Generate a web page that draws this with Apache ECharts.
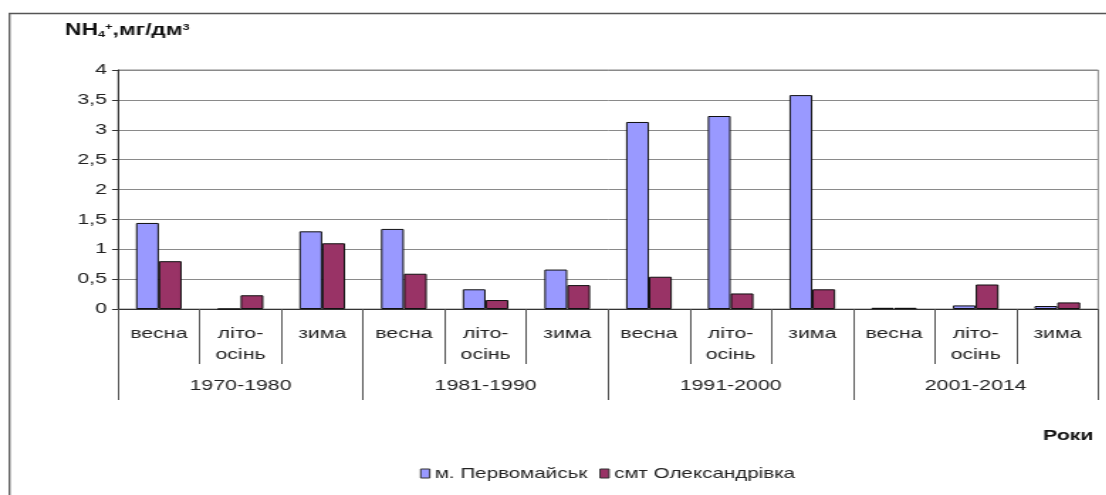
<!DOCTYPE html>
<html>
<head>
<meta charset="utf-8">
<script src="https://cdn.jsdelivr.net/npm/echarts@6/dist/echarts.min.js"></script>
<style>
  html, body { margin: 0; padding: 0; background: #fff; overflow: hidden; }
  /* оригінал розтягнутий по горизонталі, тому малюємо вужче і розтягуємо */
  #chart { width: 779px; height: 495px; transform: scaleX(1.42); transform-origin: 0 0; }
</style>
</head>
<body>
<div id="chart"></div>
<script>
// сезони всередині кожного періоду
const seasons = ['весна', 'літо-\nосінь', 'зима']
const periods = ['1970-1980', '1981-1990', '1991-2000', '2001-2014']
const categories = periods.flatMap(() => seasons)

// NH4+, мг/дм3
const pervomaisk = [1.44, 0, 1.30, 1.34, 0.33, 0.66, 3.13, 3.23, 3.58, 0.02, 0.06, 0.05]
const oleksandrivka = [0.80, 0.23, 1.10, 0.59, 0.15, 0.40, 0.54, 0.26, 0.33, 0.02, 0.41, 0.11]

const yTicks = ['0', '0,5', '1', '1,5', '2', '2,5', '3', '3,5', '4']

const SX = 1.42
const px = v => v / SX   // горизонтальні відстані в пікселях картинки
const font = 'Liberation Sans, Arial, sans-serif'

const chart = echarts.init(document.getElementById('chart'))

const option = {
  animation: false,
  textStyle: { fontFamily: font },
  grid: {
    left: px(118), right: px(8), top: 70, bottom: 186,
    show: true, borderColor: '#8a8a8a', borderWidth: 1
  },
  title: {
    left: px(58), top: 15,
    text: '{b|NH}{sub|4}{sup|+}{b|,мг/дм}{sup|3}',
    textStyle: {
      rich: {
        b: { fontFamily: font, fontWeight: 'bold', fontSize: 16, color: '#111', lineHeight: 22, verticalAlign: 'middle' },
        sub: { fontFamily: font, fontWeight: 'bold', fontSize: 9, color: '#111', lineHeight: 22, verticalAlign: 'bottom', padding: [0, 0, 3, 0] },
        sup: { fontFamily: font, fontSize: 9, color: '#111', lineHeight: 22, verticalAlign: 'top', padding: [3, 0, 0, 0] }
      }
    }
  },
  legend: {
    top: 466, left: px(420) - 5, padding: [0, 5],
    itemWidth: px(9), itemHeight: 9, itemGap: px(12),
    icon: 'rect',
    itemStyle: { borderColor: '#333', borderWidth: 1 },
    textStyle: { fontFamily: font, fontSize: 14.5, color: '#222', padding: [0, 0, 0, px(5) - 5] },
    data: ['м. Первомайськ', 'смт Олександрівка']
  },
  xAxis: [
    {
      type: 'category',
      data: categories,
      axisLine: { lineStyle: { color: '#333', width: 1 } },
      axisTick: { show: true, length: 55, interval: 0, lineStyle: { color: '#555' } },
      axisLabel: { interval: 0, margin: 14, fontSize: 15, color: '#222', lineHeight: 21 }
    },
    {
      type: 'category',
      data: periods,
      position: 'bottom',
      axisLine: { show: false },
      axisTick: { show: true, length: 91, interval: 0, lineStyle: { color: '#555' } },
      axisLabel: { interval: 0, margin: 69, fontSize: 15, color: '#222' }
    }
  ],
  yAxis: {
    type: 'value',
    min: 0, max: 4, interval: 0.5,
    axisLine: { show: true, lineStyle: { color: '#333' } },
    axisTick: { show: true, length: px(6), lineStyle: { color: '#333' } },
    axisLabel: {
      fontSize: 15, color: '#222', margin: px(11),
      formatter: v => yTicks[Math.round(v * 2)]
    },
    splitLine: { lineStyle: { color: '#8a8a8a', width: 1 } }
  },
  series: [
    {
      name: 'м. Первомайськ',
      type: 'bar',
      data: pervomaisk,
      barGap: '0%',
      barCategoryGap: '44%',
      itemStyle: { color: '#9999ff', borderColor: '#111', borderWidth: 1 }
    },
    {
      name: 'смт Олександрівка',
      type: 'bar',
      data: oleksandrivka,
      itemStyle: { color: '#993366', borderColor: '#111', borderWidth: 1 }
    }
  ],
  graphic: [
    {
      type: 'rect',
      shape: { x: px(9.5), y: 13.5, width: 900, height: 600 },
      style: { fill: 'none', stroke: '#555', lineWidth: 1.3 },
      silent: true
    },
    {
      type: 'text',
      left: px(1043), top: 428,
      style: { text: 'Роки', font: 'bold 15px ' + font, fill: '#111' }
    }
  ]
}

chart.setOption(option)
</script>
</body>
</html>
